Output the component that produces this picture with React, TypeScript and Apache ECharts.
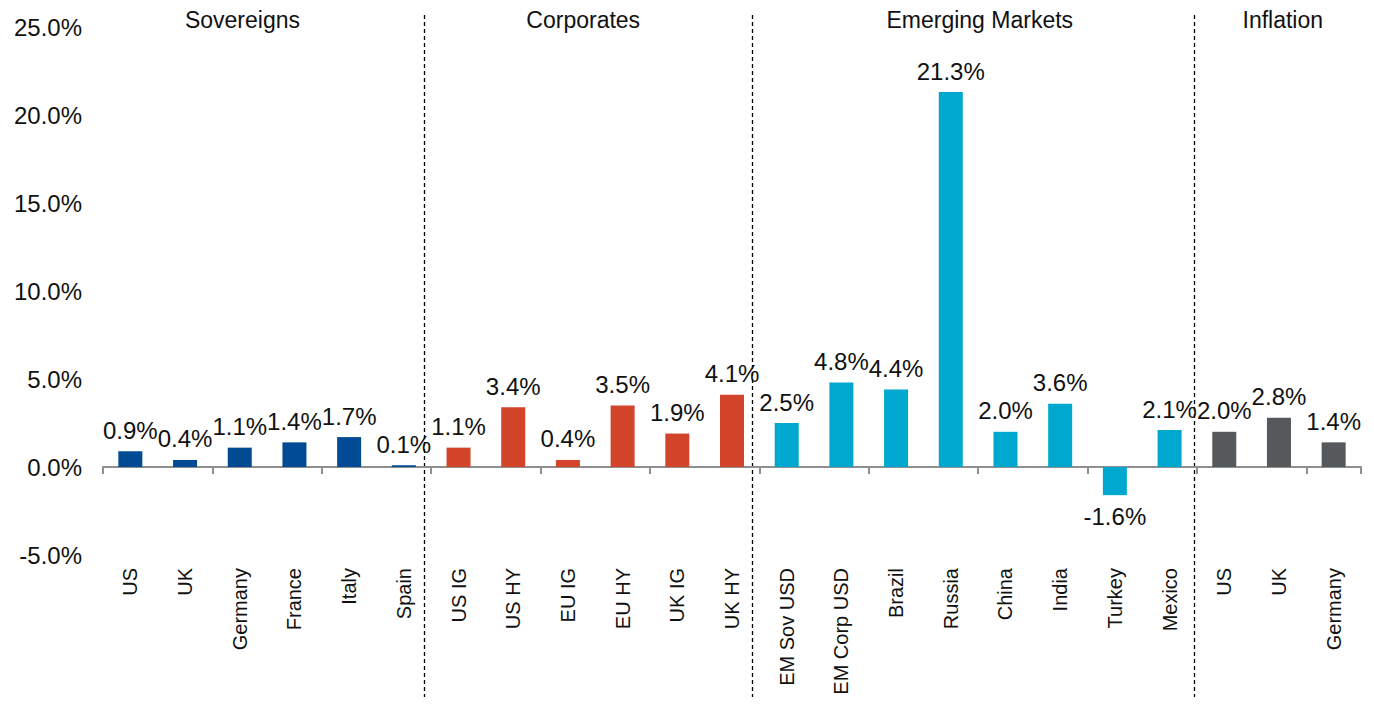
import React, { useEffect, useRef } from "react";
import * as echarts from "echarts";

const categories = [
  "US", "UK", "Germany", "France", "Italy", "Spain",
  "US IG", "US HY", "EU IG", "EU HY", "UK IG", "UK HY",
  "EM Sov USD", "EM Corp USD", "Brazil", "Russia", "China", "India", "Turkey", "Mexico",
  "US", "UK", "Germany",
];
const values = [
  0.9, 0.4, 1.1, 1.4, 1.7, 0.1,
  1.1, 3.4, 0.4, 3.5, 1.9, 4.1,
  2.5, 4.8, 4.4, 21.3, 2.0, 3.6, -1.6, 2.1,
  2.0, 2.8, 1.4,
];
const groupNames = ["Sovereigns", "Corporates", "Emerging Markets", "Inflation"];
const groupSizes = [6, 6, 8, 3];
const groupColors = ["#004B93", "#D2452A", "#00A8CF", "#55595C"];
const yTicks = { min: -5, max: 25, interval: 5 };

const FONT = "'Liberation Sans', Arial, sans-serif";

export default function App() {
  const ref = useRef<HTMLDivElement>(null);
  useEffect(() => {
    if (!ref.current) return;
    const chart = echarts.init(ref.current, undefined, { renderer: "svg" });
    const groupOf: number[] = [];
    groupSizes.forEach((n, g) => {
      for (let i = 0; i < n; i++) groupOf.push(g);
    });
    const data = values.map((v, i) => ({
      value: v,
      itemStyle: { color: groupColors[groupOf[i]] },
      label: { position: v < 0 ? "bottom" : "top" },
    }));

    const gridLeft = 103;
    const gridRight = 13;
    const gridTop = 27;
    const gridBottom = 163;
    const band = (1374 - gridLeft - gridRight) / categories.length;

    // divider positions (in category units) and header centers
    const dividerPos = [5.87, 11.86, 19.94];
    const headerPos = [2.55, 8.78, 16.03, 21.57];

    const graphic: any[] = [];
    dividerPos.forEach((p) => {
      const x = Math.round(gridLeft + p * band) + 0.5;
      graphic.push({
        type: "line",
        shape: { x1: x, y1: 15, x2: x, y2: 697 },
        style: { stroke: "#000", lineWidth: 1.3, lineDash: [4, 3] },
        silent: true,
      });
    });
    groupNames.forEach((name, i) => {
      graphic.push({
        type: "text",
        x: gridLeft + headerPos[i] * band,
        y: 20,
        style: {
          text: name,
          fill: "#111",
          font: `23px ${FONT}`,
          align: "center",
          verticalAlign: "middle",
        },
      });
    });

    chart.setOption({
      animation: false,
      backgroundColor: "#fff",
      textStyle: { fontFamily: FONT },
      grid: { left: gridLeft, right: gridRight, top: gridTop, bottom: gridBottom, containLabel: false },
      xAxis: [
        {
          type: "category",
          data: categories,
          axisLine: { onZero: true, lineStyle: { color: "#8f8f8f", width: 2 } },
          axisTick: { show: true, length: 7, lineStyle: { color: "#8f8f8f", width: 2 } },
          axisLabel: { show: false },
        },
        {
          type: "category",
          data: categories,
          position: "bottom",
          axisLine: { show: false, onZero: false },
          axisTick: { show: false },
          axisLabel: {
            show: true,
            rotate: 90,
            interval: 0,
            margin: 13,
            color: "#111",
            fontSize: 20,
            fontFamily: FONT,
          },
        },
      ],
      yAxis: {
        type: "value",
        min: yTicks.min,
        max: yTicks.max,
        interval: yTicks.interval,
        splitLine: { show: false },
        axisLine: { show: false },
        axisTick: { show: false },
        axisLabel: {
          color: "#111",
          fontSize: 24,
          fontFamily: FONT,
          margin: 21,
          formatter: (v: number) => v.toFixed(1) + "%",
        },
      },
      series: [
        {
          type: "bar",
          xAxisIndex: 0,
          data,
          barWidth: 24,
          label: {
            show: true,
            distance: 9,
            color: "#111",
            fontSize: 24,
            fontFamily: FONT,
            formatter: (p: any) => Number(p.value).toFixed(1) + "%",
          },
        },
      ],
      graphic,
    });
    return () => chart.dispose();
  }, []);
  return (
    <div
      ref={ref}
      style={{ position: "fixed", left: 0, top: 0, width: 1374, height: 718, background: "#fff" }}
    />
  );
}
